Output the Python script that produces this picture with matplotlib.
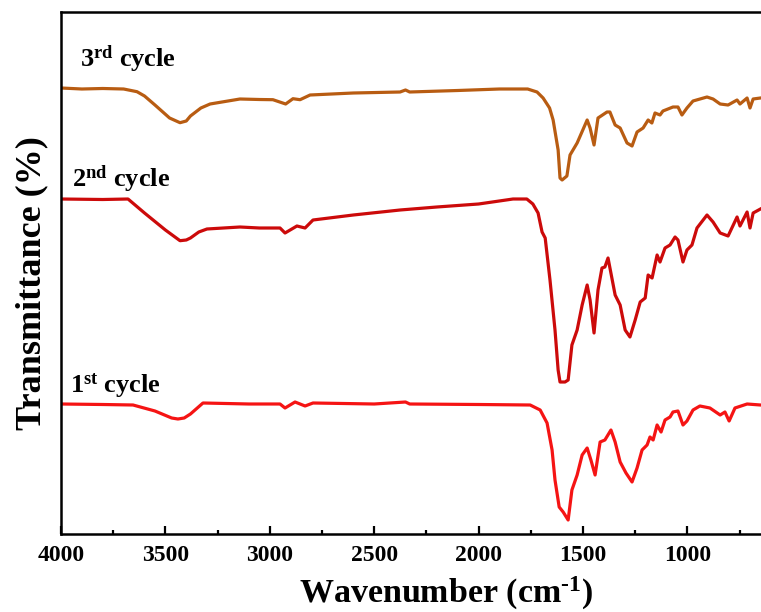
import matplotlib
matplotlib.use("Agg")
import matplotlib.pyplot as plt
from matplotlib.ticker import MultipleLocator
import numpy as np

# ---- data (transmittance in arbitrary, offset units) ----
wn3 = [4000, 3900, 3800, 3700, 3636, 3600, 3550, 3480, 3430, 3400, 3380, 3330, 3286, 3143, 3050, 2985, 2924, 2889,
       2855, 2807, 2600, 2376, 2350, 2330, 2100, 1900, 1765, 1720, 1691, 1660, 1643, 1619, 1610,
       1600, 1577, 1562, 1528, 1480, 1466, 1447, 1428, 1385, 1371, 1346, 1322, 1289, 1265, 1241,
       1212, 1188, 1170, 1155, 1131, 1117, 1069, 1045, 1026, 1002, 973, 906, 877, 843, 805, 762,
       748, 714, 700, 685, 650]
py3 = [88, 89, 88.5, 89, 91.7, 96, 105, 118, 122.7, 121, 116, 108, 104, 99, 99.5, 99.7, 104, 98.7,
       99.7, 95, 93, 92, 90, 92, 90.5, 89, 89, 92, 98, 108, 120, 150, 178,
       180, 176, 155, 143, 120, 128, 145, 118, 112, 112, 125, 128, 143, 146, 132,
       128, 120, 123, 113, 115, 111, 107, 107, 115, 108, 101, 97, 99, 104, 105, 100,
       104, 98, 108, 99, 98]

wn2 = [4000, 3800, 3679, 3600, 3500, 3430, 3400, 3380, 3340, 3301, 3143, 3050, 2951, 2927, 2870, 2831, 2793,
       2600, 2376, 2200, 2000, 1835, 1769, 1740, 1715, 1696, 1681, 1658, 1634, 1619, 1610, 1586,
       1571, 1553, 1528, 1504, 1480, 1466, 1447, 1428, 1409, 1395, 1380, 1346, 1322, 1298, 1275,
       1250, 1226, 1202, 1188, 1169, 1145, 1131, 1107, 1083, 1059, 1045, 1021, 1002, 978, 954,
       906, 877, 843, 805, 762, 748, 714, 700, 685, 650]
py2 = [199, 199.5, 199, 213, 230, 240.7, 240, 238, 232, 229, 227, 228, 228, 233, 226, 228, 220,
       215, 210, 207, 204, 199, 199, 204, 213, 232, 238, 280, 330, 370, 382, 382,
       380, 345, 330, 305, 285, 300, 333, 290, 268, 267, 258, 295, 305, 330, 337,
       320, 302, 298, 275, 278, 255, 262, 248, 245, 237, 240, 262, 250, 245, 228,
       215, 222, 233, 236, 217, 226, 212, 228, 213, 209]

wn1 = [4000, 3800, 3655, 3550, 3470, 3440, 3410, 3380, 3320, 3100, 2951, 2927, 2879, 2831, 2793, 2500, 2350,
       2330, 2000, 1753, 1705, 1672, 1648, 1634, 1614, 1595, 1571, 1553, 1528, 1504, 1480, 1462,
       1442, 1418, 1395, 1366, 1346, 1322, 1294, 1265, 1241, 1217, 1193, 1179, 1164, 1145, 1126,
       1107, 1083, 1069, 1045, 1021, 1002, 973, 940, 892, 843, 820, 800, 772, 714, 650]
py1 = [404, 404.5, 405, 411, 418, 419, 418, 414, 403, 404, 404, 408, 402, 406, 403, 404, 402,
       404, 404.5, 405, 410, 423, 450, 480, 507, 512, 520, 490, 475, 455, 448, 460,
       475, 442, 440, 430, 442, 462, 473, 482, 468, 450, 445, 437, 440, 425, 432,
       420, 417, 412, 411, 425, 421, 410, 406, 408, 415, 412, 421, 408, 404, 405]

labels = ["1$^{\\mathbf{st}}$ cycle", "2$^{\\mathbf{nd}}$ cycle", "3$^{\\mathbf{rd}}$ cycle"]
label_pos = [(3957, 392), (3947, 187), (3909, 67)]
colors = ["#F51414", "#CC0A0A", "#B85C12"]
xticks = [4000, 3500, 3000, 2500, 2000, 1500, 1000]

TOP = 534  # reading reference
def tr(vals):
    return [TOP - v for v in vals]

plt.rcParams['font.family'] = ['Liberation Serif', 'DejaVu Serif']
plt.rcParams['mathtext.fontset'] = 'custom'
plt.rcParams['mathtext.rm'] = 'Liberation Serif'
plt.rcParams['mathtext.bf'] = 'Liberation Serif:bold'
plt.rcParams['mathtext.it'] = 'Liberation Serif:italic'

fig = plt.figure(figsize=(7.61, 6.12), dpi=100)
ax = fig.add_axes([61/761, 78/612, 703/761, 522/612])

for wn, py, c in zip([wn1, wn2, wn3], [py1, py2, py3], colors):
    ax.plot(wn, tr(py), color=c, lw=2.3, solid_joinstyle='round')

for lab, (x, y) in zip(labels, label_pos):
    ax.text(x, TOP - y, lab, fontsize=19, fontweight='bold', ha='left', va='baseline')

ax.set_xlim(4000, 633)
ax.set_ylim(0, 522)
ax.set_xticks(xticks)
ax.xaxis.set_minor_locator(MultipleLocator(250))
ax.set_yticks([])
ax.tick_params(axis='x', which='major', direction='in', length=6, width=1.6,
               labelsize=17, pad=8)
ax.tick_params(axis='x', which='minor', direction='in', length=3, width=1.6)
for lbl in ax.get_xticklabels():
    lbl.set_fontweight('bold')
for s in ['left', 'bottom', 'top']:
    ax.spines[s].set_linewidth(1.8)
ax.spines['right'].set_visible(False)

ax.set_xlabel("Wavenumber (cm$^{\\mathbf{\u2010}\\mathbf{1}}$)", fontsize=24.5, fontweight='bold', labelpad=6)
ax.xaxis.label.set_x(0.548)
ax.set_ylabel("Transmittance (%)", fontsize=26, fontweight='bold', labelpad=9)
ax.yaxis.label.set_y(0.481)

fig.savefig("out.png", dpi=100)
